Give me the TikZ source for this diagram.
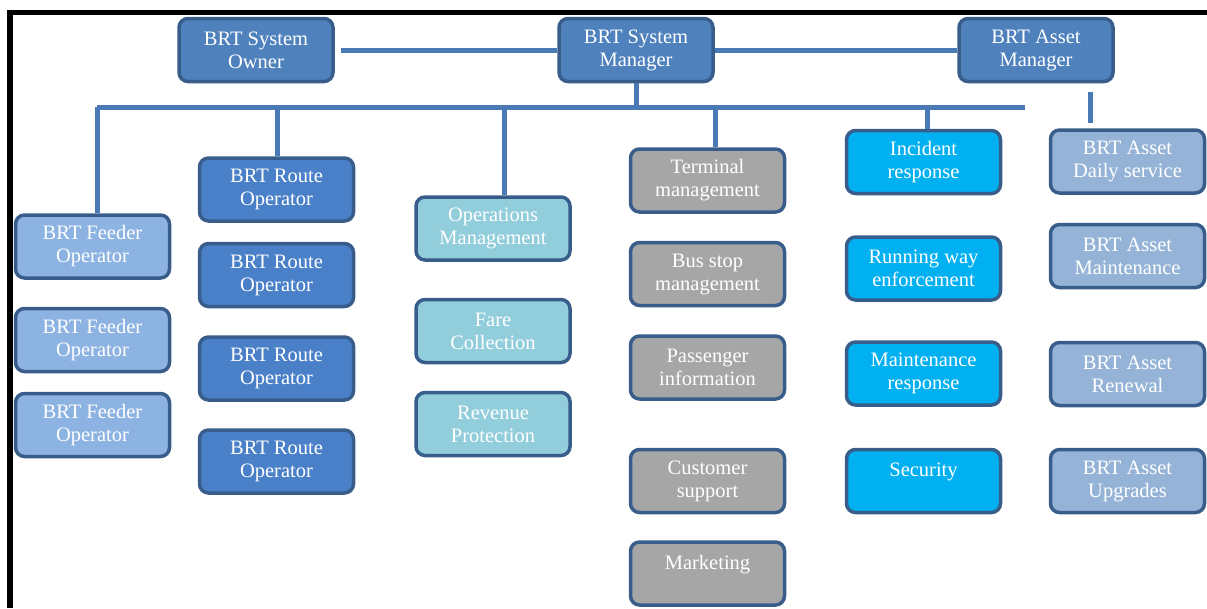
\documentclass[tikz,border=0pt]{standalone}
\usepackage{fontspec}
\setmainfont{Liberation Serif}
\definecolor{edgeblue}{RGB}{56,93,138}
\definecolor{linkblue}{RGB}{74,122,182}
\definecolor{topblue}{RGB}{79,129,189}
\definecolor{routeblue}{RGB}{74,128,200}
\definecolor{feederblue}{RGB}{141,179,226}
\definecolor{opsblue}{RGB}{146,205,220}
\definecolor{servgray}{RGB}{166,166,166}
\definecolor{respcyan}{RGB}{0,176,240}
\definecolor{assetblue}{RGB}{149,179,215}
\begin{document}
\begin{tikzpicture}[x=1pt,y=-1pt,
  box/.style={draw=edgeblue, line width=3.5pt, rounded corners=9pt,
    minimum width=154pt, minimum height=63pt, inner sep=0pt,
    align=center, text=white, font=\fontsize{20.5}{23}\selectfont},
  topbox/.style={box, fill=topblue},
  routebox/.style={box, fill=routeblue},
  feederbox/.style={box, fill=feederblue},
  opsbox/.style={box, fill=opsblue},
  servbox/.style={box, fill=servgray},
  respbox/.style={box, fill=respcyan},
  assetbox/.style={box, fill=assetblue},
  link/.style={draw=linkblue, line width=5pt}]
\useasboundingbox (0,0) rectangle (1207,608);

% page frame (top and left edges)
\fill[black] (7,10) rectangle (1207,15);
\fill[black] (7,10) rectangle (13,608);

% management level
\node[topbox] (owner)   at (256,50)  {BRT System\\Owner};
\node[topbox] (manager) at (636,50)  {BRT System\\Manager};
\node[topbox] (assetmgr) at (1036,50) {BRT Asset\\Manager};

% feeder operators
\node[feederbox] (feed1) at (92.5,246.5) {BRT Feeder\\Operator};
\node[feederbox] (feed2) at (92.5,340)   {BRT Feeder\\Operator};
\node[feederbox] (feed3) at (92.5,425)   {BRT Feeder\\Operator};

% route operators
\node[routebox] (route1) at (276.5,189.5) {BRT Route\\Operator};
\node[routebox] (route2) at (276.5,275)   {BRT Route\\Operator};
\node[routebox] (route3) at (276.5,368.5) {BRT Route\\Operator};
\node[routebox] (route4) at (276.5,461.5) {BRT Route\\Operator};

% operations
\node[opsbox] (ops1) at (493,228.5) {Operations\\Management};
\node[opsbox] (ops2) at (493,331)   {Fare\\Collection};
\node[opsbox] (ops3) at (493,424)   {Revenue\\Protection};

% customer services
\node[servbox] (serv1) at (707.5,180.5) {Terminal\\management};
\node[servbox] (serv2) at (707.5,274)   {Bus stop\\management};
\node[servbox] (serv3) at (707.5,367.5) {Passenger\\information};
\node[servbox] (serv4) at (707.5,481)   {Customer\\support};
\node[servbox] (serv5) at (707.5,573.5) {Marketing\\\mbox{}};

% response functions
\node[respbox] (resp1) at (923.5,162)   {Incident\\response};
\node[respbox] (resp2) at (923.5,268.5) {Running way\\enforcement};
\node[respbox] (resp3) at (923.5,373.5) {Maintenance\\response};
\node[respbox] (resp4) at (923.5,481)   {Security\\\mbox{}};

% asset functions
\node[assetbox] (asset1) at (1127.5,161.5) {BRT Asset\\Daily service};
\node[assetbox] (asset2) at (1127.5,256)   {BRT Asset\\Maintenance};
\node[assetbox] (asset3) at (1127.5,374)   {BRT Asset\\Renewal};
\node[assetbox] (asset4) at (1127.5,481)   {BRT Asset\\Upgrades};

% connectors
\draw[link] ([xshift=6pt]owner.east) -- (manager.west);
\draw[link] (manager.east) -- (assetmgr.west);

\coordinate (busL) at (97,107);
\coordinate (busR) at (1025,107);
\coordinate (bRoute) at (277,107);
\coordinate (bOps) at (504,107);
\coordinate (bServ) at (715,107);
\coordinate (bResp) at (927,107);
\draw[link] (busL) -- (busR);
\draw[link] (manager.south) -- (manager.south |- busL);
\draw[link] (busL) -- (busL |- feed1.north);
\draw[link] (bRoute) -- (bRoute |- route1.north);
\draw[link] (bOps) -- (bOps |- ops1.north);
\draw[link] (bServ) -- (bServ |- serv1.north);
\draw[link] (bResp) -- (bResp |- resp1.north);

\coordinate (stubT) at (1090,92);
\coordinate (stubB) at (1090,123);
\draw[link] (stubT) -- (stubB);
\end{tikzpicture}
\end{document}
